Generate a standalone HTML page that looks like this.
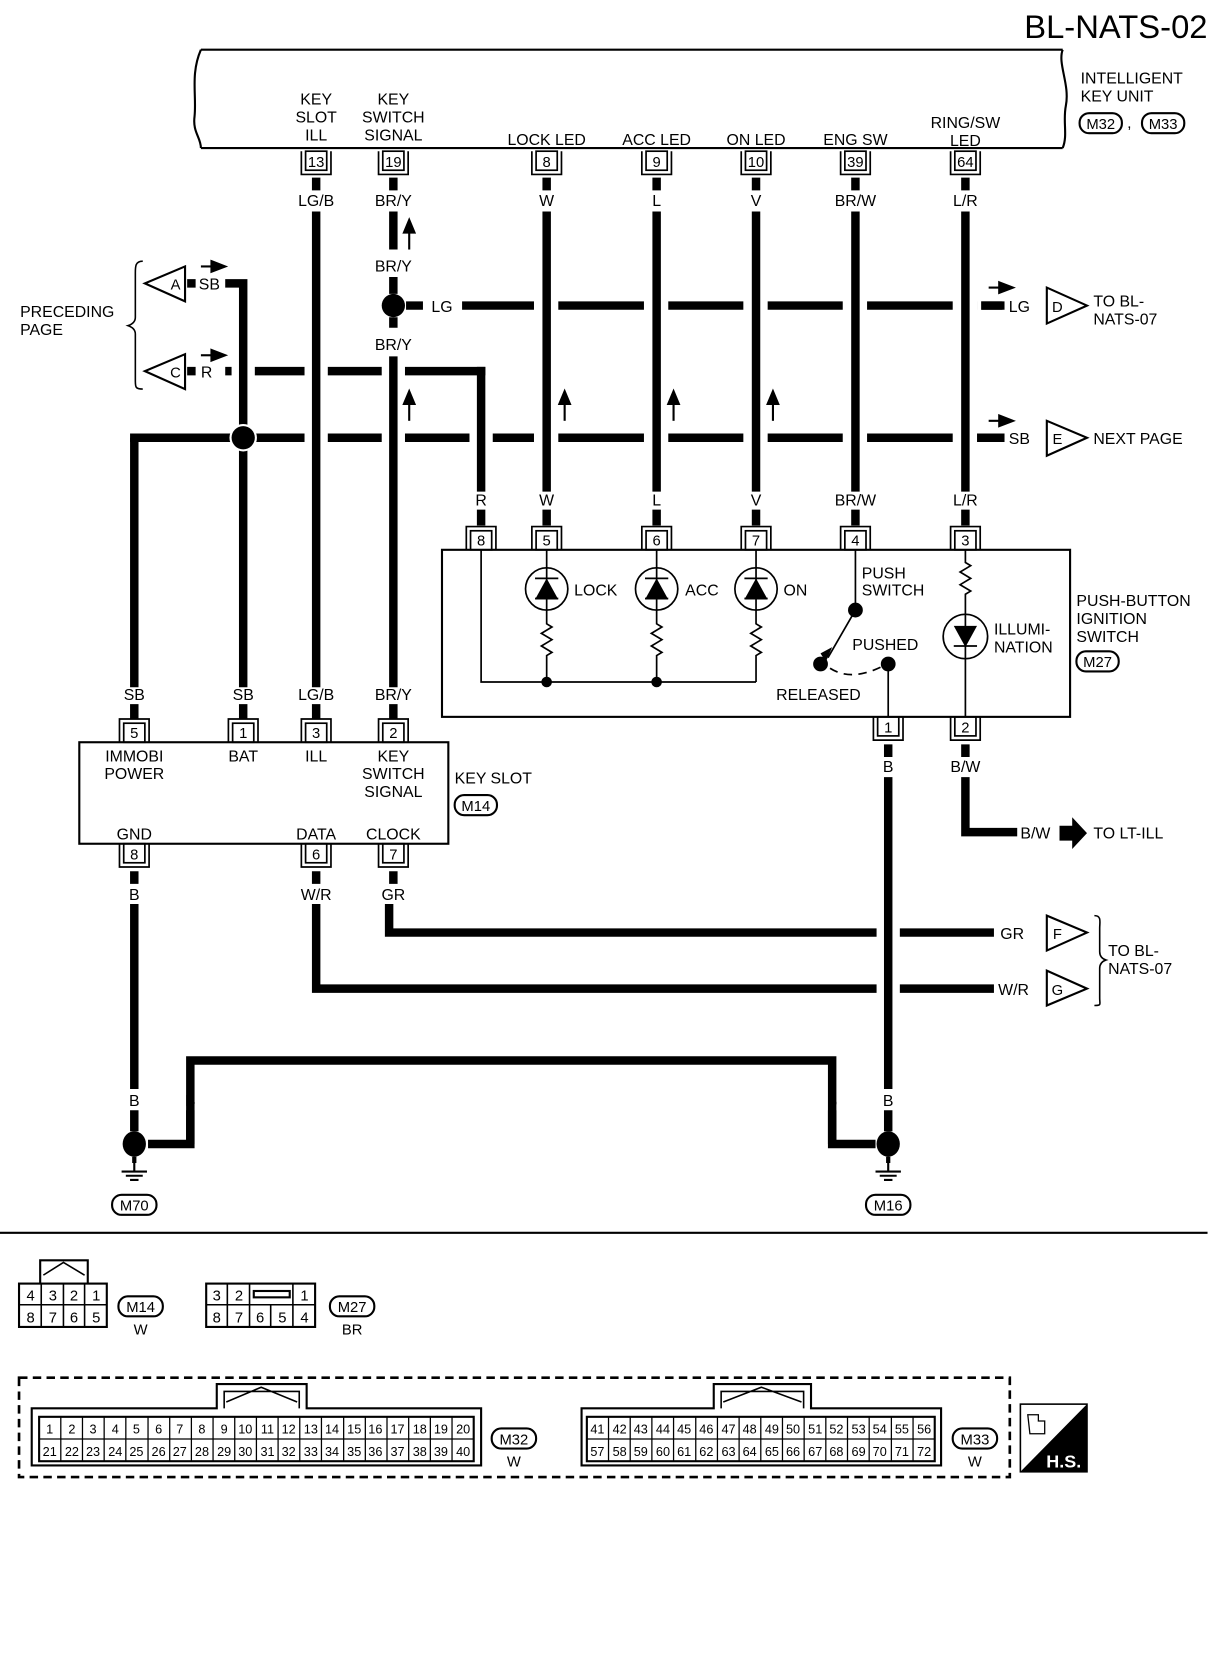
<!DOCTYPE html>
<html><head><meta charset="utf-8"><style>html,body{margin:0;padding:0;background:#fff}svg{display:block}</style></head>
<body>
<svg width="1216" height="1660" viewBox="0 0 1150 1570" preserveAspectRatio="none" xmlns="http://www.w3.org/2000/svg" font-family="Liberation Sans, sans-serif">
<defs>
<g id="pd"><rect x="-10" y="0" width="20" height="18" fill="#fff" stroke="#000" stroke-width="1.6"/><path d="M-14 0V22H14V0" fill="none" stroke="#000" stroke-width="1.6"/></g>
<g id="pu"><rect x="-10" y="-18" width="20" height="18" fill="#fff" stroke="#000" stroke-width="1.6"/><path d="M-14 0V-22H14V0" fill="none" stroke="#000" stroke-width="1.6"/></g>
<g id="gnd"><path d="M0 -14V0M-12 0H12M-8 4H8M-4 8H4" stroke="#000" stroke-width="2" fill="none"/></g>
</defs>
<rect width="1150" height="1570" fill="#fff"/>
<text x="1142" y="36" font-size="31" text-anchor="end">BL-NATS-02</text>

<!-- intelligent key unit -->
<path d="M190 47H1005M190 140H1005" stroke="#000" stroke-width="2"/>
<path d="M190 47C180 70 186 90 184 110C182 125 190 130 190 140" stroke="#000" stroke-width="2" fill="none"/>
<path d="M1005 47C1000 60 1012 80 1008 100C1005 115 1010 128 1005 140" stroke="#000" stroke-width="2" fill="none"/>
<g font-size="15" text-anchor="start">
<text x="1022" y="79">INTELLIGENT</text><text x="1022" y="96">KEY UNIT</text>
<text x="1066" y="121">,</text>
</g>
<g font-size="14" text-anchor="middle">
<rect x="1021" y="107" width="40" height="19" rx="9" fill="none" stroke="#000" stroke-width="2"/><text x="1041" y="122">M32</text>
<rect x="1080" y="107" width="40" height="19" rx="9" fill="none" stroke="#000" stroke-width="2"/><text x="1100" y="122">M33</text>
</g>

<g font-size="15" text-anchor="middle">
<text x="299" y="99">KEY</text><text x="299" y="116">SLOT</text><text x="299" y="133">ILL</text>
<text x="372" y="99">KEY</text><text x="372" y="116">SWITCH</text><text x="372" y="133">SIGNAL</text>
<text x="517" y="137">LOCK LED</text><text x="621" y="137">ACC LED</text><text x="715" y="137">ON LED</text>
<text x="809" y="137">ENG SW</text>
<text x="913" y="121">RING/SW</text><text x="913" y="138">LED</text>
</g>

<!-- horizontal wires -->
<g stroke="#000" stroke-width="8" fill="none">
<path d="M437 289H950"/>
<path d="M213 351H459"/>
<path d="M123 414H950"/>
<path d="M127 414V650"/>
<path d="M368 855V882H940"/>
<path d="M299 855V935H940"/>
<path d="M913 735V787H962"/>
<path d="M140 1082H180V1003H787V1082H828"/>
</g>
<g fill="#fff">
<rect x="505" y="280" width="23" height="18"/><rect x="609" y="280" width="23" height="18"/><rect x="703" y="280" width="23" height="18"/><rect x="797" y="280" width="23" height="18"/><rect x="901" y="280" width="23" height="18"/>
<rect x="219" y="342" width="22" height="18"/><rect x="288" y="342" width="22" height="18"/><rect x="361" y="342" width="22" height="18"/>
<rect x="288" y="405" width="22" height="18"/><rect x="361" y="405" width="22" height="18"/><rect x="444" y="405" width="22" height="18"/><rect x="505" y="405" width="23" height="18"/><rect x="609" y="405" width="23" height="18"/><rect x="703" y="405" width="23" height="18"/><rect x="797" y="405" width="23" height="18"/><rect x="901" y="405" width="23" height="18"/>
<rect x="829" y="873" width="22" height="18"/><rect x="829" y="926" width="22" height="18"/>
<rect x="924" y="280" width="4" height="18"/>
</g>
<g stroke="#000" stroke-width="8">
<path d="M928 289H948M928 414H948"/>
</g>

<!-- vertical wires -->
<g stroke="#000" stroke-width="8" fill="none">
<path d="M213 268H230V650"/>
<path d="M455 347V465"/>
<path d="M299 168V180M299 200V650"/>
<path d="M372 168V180M372 200V236M372 262V278M372 300V310M372 337V650"/>
<path d="M517 168V180M517 200V465M621 168V180M621 200V465M715 168V180M715 200V465M809 168V180M809 200V465M913 168V180M913 200V465"/>
<path d="M455 482V497M517 482V497M621 482V497M715 482V497M809 482V497M913 482V497"/>
<path d="M127 666V680M230 666V680M299 666V680M372 666V680"/>
<path d="M840 704V716M840 735V1030M913 704V716"/>
<path d="M127 824V836M299 824V836M372 824V836"/>
<path d="M127 855V1030M127 1050V1070M840 1050V1070"/>
<path d="M180 1050V1082M787 1050V1082"/>
<path d="M384 289H400"/>
<path d="M177 268H185M177 351H185"/>
</g>
<!-- dots -->
<g fill="#000">
<circle cx="372" cy="289" r="11"/>
<circle cx="230" cy="414" r="13" fill="#fff"/><circle cx="230" cy="414" r="11"/>
<ellipse cx="127" cy="1082" rx="11" ry="12"/><ellipse cx="840" cy="1082" rx="11" ry="12"/>
</g>
<use href="#gnd" x="127" y="1108"/><use href="#gnd" x="840" y="1108"/>
<path d="M127 1094V1100M840 1094V1100" stroke="#000" stroke-width="4"/>

<!-- arrows -->
<g stroke="#000" stroke-width="2" fill="#000">
<path d="M387 236V218"/><path d="M382 220L387 208L392 220Z"/>
<path d="M387 398V380"/><path d="M382 382L387 370L392 382Z"/>
<path d="M534 398V380"/><path d="M529 382L534 370L539 382Z"/>
<path d="M637 398V380"/><path d="M632 382L637 370L642 382Z"/>
<path d="M731 398V380"/><path d="M726 382L731 370L736 382Z"/>
<path d="M190 252H202"/><path d="M200 247L213 252L200 257Z"/>
<path d="M190 336H202"/><path d="M200 331L213 336L200 341Z"/>
<path d="M935 272H947"/><path d="M945 267L958 272L945 277Z"/>
<path d="M935 398H947"/><path d="M945 393L958 398L945 403Z"/>
</g>
<path d="M1002 781H1014V773L1028 788L1014 803V795H1002Z" fill="#000"/>

<!-- triangles -->
<g fill="#fff" stroke="#000" stroke-width="2" font-size="14" text-anchor="middle">
<path d="M175 252V285L137 268Z"/><text x="166" y="274" stroke="none" fill="#000">A</text>
<path d="M175 335V368L137 351Z"/><text x="166" y="357" stroke="none" fill="#000">C</text>
<path d="M990 272V306L1028 289Z"/><text x="1000" y="295" stroke="none" fill="#000">D</text>
<path d="M990 398V431L1028 414Z"/><text x="1000" y="420" stroke="none" fill="#000">E</text>
<path d="M990 866V899L1028 882Z"/><text x="1000" y="888" stroke="none" fill="#000">F</text>
<path d="M990 918V951L1028 935Z"/><text x="1000" y="941" stroke="none" fill="#000">G</text>
</g>
<g fill="none" stroke="#000" stroke-width="1.5">
<path d="M135 247C128 247 128 252 128 258V300C128 305 124 307 121 308C124 309 128 311 128 316V360C128 366 128 368 135 368"/>
<path d="M1035 866C1042 866 1040 872 1040 878V900C1040 905 1043 907 1046 908C1043 909 1040 911 1040 916V944C1040 950 1042 951 1035 951"/>
</g>

<!-- wire labels -->
<g font-size="15" text-anchor="middle">
<text x="299" y="195">LG/B</text><text x="372" y="195">BR/Y</text><text x="517" y="195">W</text><text x="621" y="195">L</text><text x="715" y="195">V</text><text x="809" y="195">BR/W</text><text x="913" y="195">L/R</text>
<text x="372" y="257">BR/Y</text><text x="372" y="331">BR/Y</text>
<text x="455" y="478">R</text><text x="517" y="478">W</text><text x="621" y="478">L</text><text x="715" y="478">V</text><text x="809" y="478">BR/W</text><text x="913" y="478">L/R</text>
<text x="127" y="662">SB</text><text x="230" y="662">SB</text><text x="299" y="662">LG/B</text><text x="372" y="662">BR/Y</text>
<text x="840" y="730">B</text><text x="913" y="730">B/W</text>
<text x="127" y="851">B</text><text x="299" y="851">W/R</text><text x="372" y="851">GR</text>
<text x="127" y="1046">B</text><text x="180" y="1046">B</text><text x="787" y="1046">B</text><text x="840" y="1046">B</text>
</g>
<g font-size="15" text-anchor="start">
<text x="188" y="274">SB</text><text x="190" y="357">R</text>
<text x="408" y="295">LG</text>
<text x="954" y="295">LG</text><text x="954" y="420">SB</text>
<text x="946" y="888">GR</text><text x="944" y="941">W/R</text>
<text x="965" y="793">B/W</text><text x="1034" y="793">TO LT-ILL</text>
<text x="1034" y="290">TO BL-</text><text x="1034" y="307">NATS-07</text>
<text x="1034" y="420">NEXT PAGE</text>
<text x="1048" y="904">TO BL-</text><text x="1048" y="921">NATS-07</text>
<text x="19" y="300">PRECEDING</text><text x="19" y="317">PAGE</text>
</g>

<!-- pins -->
<g font-size="14" text-anchor="middle">
<use href="#pd" x="299" y="143"/><text x="299" y="158">13</text>
<use href="#pd" x="372" y="143"/><text x="372" y="158">19</text>
<use href="#pd" x="517" y="143"/><text x="517" y="158">8</text>
<use href="#pd" x="621" y="143"/><text x="621" y="158">9</text>
<use href="#pd" x="715" y="143"/><text x="715" y="158">10</text>
<use href="#pd" x="809" y="143"/><text x="809" y="158">39</text>
<use href="#pd" x="913" y="143"/><text x="913" y="158">64</text>
<use href="#pu" x="455" y="520"/><text x="455" y="516">8</text>
<use href="#pu" x="517" y="520"/><text x="517" y="516">5</text>
<use href="#pu" x="621" y="520"/><text x="621" y="516">6</text>
<use href="#pu" x="715" y="520"/><text x="715" y="516">7</text>
<use href="#pu" x="809" y="520"/><text x="809" y="516">4</text>
<use href="#pu" x="913" y="520"/><text x="913" y="516">3</text>
<use href="#pd" x="840" y="678"/><text x="840" y="693">1</text>
<use href="#pd" x="913" y="678"/><text x="913" y="693">2</text>
<use href="#pu" x="127" y="702"/><text x="127" y="698">5</text>
<use href="#pu" x="230" y="702"/><text x="230" y="698">1</text>
<use href="#pu" x="299" y="702"/><text x="299" y="698">3</text>
<use href="#pu" x="372" y="702"/><text x="372" y="698">2</text>
<use href="#pd" x="127" y="798"/><text x="127" y="813">8</text>
<use href="#pd" x="299" y="798"/><text x="299" y="813">6</text>
<use href="#pd" x="372" y="798"/><text x="372" y="813">7</text>
</g>

<!-- push button ignition switch -->
<rect x="418" y="520" width="594" height="158" fill="none" stroke="#000" stroke-width="2"/>
<g stroke="#000" stroke-width="1.6" fill="none">
<path d="M455 520V645H715"/>
<path d="M517 520V590l5 3l-10 6l10 6l-10 6l10 6l-5 3V645"/>
<path d="M621 520V590l5 3l-10 6l10 6l-10 6l10 6l-5 3V645"/>
<path d="M715 520V590l5 3l-10 6l10 6l-10 6l10 6l-5 3V645"/>
<circle cx="517" cy="557" r="20"/><circle cx="621" cy="557" r="20"/><circle cx="715" cy="557" r="20"/>
<path d="M809 520V577"/>
<path d="M809 577L783 622"/>
<path d="M785 632Q805 645 835 630" stroke-dasharray="8 6"/>
<path d="M840 628V678"/>
<path d="M913 520V532l5 3l-10 6l10 6l-10 6l10 6l-5 3V678"/>
<circle cx="913" cy="602" r="21"/>
<path d="M506 566H528M610 566H632M704 566H726M902 611H924M506 547H528M610 547H632M704 547H726"/>
</g>
<g fill="#000">
<path d="M506 567L517 547L528 567Z"/><path d="M610 567L621 547L632 567Z"/><path d="M704 567L715 547L726 567Z"/>
<path d="M902 592L924 592L913 612Z"/>
<circle cx="517" cy="645" r="5"/><circle cx="621" cy="645" r="5"/>
<circle cx="809" cy="577" r="7"/><circle cx="776" cy="628" r="7"/><circle cx="840" cy="628" r="7"/>
<path d="M776 618L787 612L781 626Z"/>
</g>
<g font-size="15" text-anchor="start">
<text x="543" y="563">LOCK</text><text x="648" y="563">ACC</text><text x="741" y="563">ON</text>
<text x="815" y="547">PUSH</text><text x="815" y="563">SWITCH</text>
<text x="806" y="615">PUSHED</text><text x="734" y="662">RELEASED</text>
<text x="940" y="600">ILLUMI-</text><text x="940" y="617">NATION</text>
<text x="1018" y="573">PUSH-BUTTON</text><text x="1018" y="590">IGNITION</text><text x="1018" y="607">SWITCH</text>
<text x="430" y="741">KEY SLOT</text>
</g>
<g font-size="14" text-anchor="middle">
<rect x="1018" y="616" width="40" height="19" rx="9" fill="none" stroke="#000" stroke-width="2"/><text x="1038" y="631">M27</text>
<rect x="430" y="752" width="40" height="19" rx="9" fill="none" stroke="#000" stroke-width="2"/><text x="450" y="767">M14</text>
<rect x="106" y="1130" width="42" height="19" rx="9" fill="none" stroke="#000" stroke-width="2"/><text x="127" y="1145">M70</text>
<rect x="819" y="1130" width="42" height="19" rx="9" fill="none" stroke="#000" stroke-width="2"/><text x="840" y="1145">M16</text>
</g>

<!-- key slot -->
<rect x="75" y="702" width="349" height="96" fill="none" stroke="#000" stroke-width="2"/>
<g font-size="15" text-anchor="middle">
<text x="127" y="720">IMMOBI</text><text x="127" y="737">POWER</text>
<text x="230" y="720">BAT</text><text x="299" y="720">ILL</text>
<text x="372" y="720">KEY</text><text x="372" y="737">SWITCH</text><text x="372" y="754">SIGNAL</text>
<text x="127" y="794">GND</text><text x="299" y="794">DATA</text><text x="372" y="794">CLOCK</text>
</g>

<path d="M0 1166H1142" stroke="#000" stroke-width="2"/>

<!-- M14 / M27 connectors -->
<g stroke="#000" stroke-width="2" fill="none">
<path d="M38 1214V1192H83V1214"/><path d="M41 1206L60 1194L80 1206" stroke-width="1.5"/>
<rect x="18" y="1214" width="83" height="41"/>
<path d="M18 1234H101M39 1214V1255M60 1214V1255M80 1214V1255" stroke-width="1.5"/>
<rect x="195" y="1214" width="103" height="41"/>
<path d="M195 1234H298M215 1214V1255M236 1214V1255M256 1234V1255M277 1214V1255" stroke-width="1.5"/>
<rect x="240" y="1221" width="34" height="6"/>
</g>
<g font-size="14" text-anchor="middle">
<text x="29" y="1230">4</text><text x="50" y="1230">3</text><text x="70" y="1230">2</text><text x="91" y="1230">1</text>
<text x="29" y="1251">8</text><text x="50" y="1251">7</text><text x="70" y="1251">6</text><text x="91" y="1251">5</text>
<text x="205" y="1230">3</text><text x="226" y="1230">2</text><text x="288" y="1230">1</text>
<text x="205" y="1251">8</text><text x="226" y="1251">7</text><text x="246" y="1251">6</text><text x="267" y="1251">5</text><text x="288" y="1251">4</text>
<rect x="112" y="1226" width="42" height="19" rx="9" fill="none" stroke="#000" stroke-width="2"/><text x="133" y="1241">M14</text><text x="133" y="1262">W</text>
<rect x="312" y="1226" width="42" height="19" rx="9" fill="none" stroke="#000" stroke-width="2"/><text x="333" y="1241">M27</text><text x="333" y="1262">BR</text>
</g>

<!-- dashed box -->
<rect x="18" y="1303" width="937" height="94" fill="none" stroke="#000" stroke-width="2.5" stroke-dasharray="8 5"/>
<g stroke="#000" stroke-width="2" fill="none">
<path d="M30 1386V1332H205V1309H290V1332H455V1386Z"/>
<path d="M212 1332V1316H283V1332M214 1326L247 1312L281 1326" stroke-width="1.5"/>
<rect x="37" y="1340" width="411" height="42"/>
<path d="M550 1386V1332H675V1309H767V1332H890V1386Z"/>
<path d="M682 1332V1316H760V1332M684 1326L720 1312L758 1326" stroke-width="1.5"/>
<rect x="555" y="1340" width="329" height="42"/>
</g>
<g stroke="#000" stroke-width="1.2">
<path d="M37 1361H448M555 1361H884"/>
<path d="M57.5 1340V1382M78 1340V1382M98.5 1340V1382M119 1340V1382M140 1340V1382M160.5 1340V1382M181 1340V1382M201.5 1340V1382M222 1340V1382M242.5 1340V1382M263 1340V1382M283.5 1340V1382M304 1340V1382M325 1340V1382M345.5 1340V1382M366 1340V1382M386.5 1340V1382M407 1340V1382M427.5 1340V1382"/>
<path d="M575.5 1340V1382M596 1340V1382M616.5 1340V1382M637 1340V1382M658 1340V1382M678.5 1340V1382M699 1340V1382M719.5 1340V1382M740 1340V1382M760.5 1340V1382M781 1340V1382M801.5 1340V1382M822 1340V1382M843 1340V1382M863.5 1340V1382"/>
</g>
<g font-size="12" text-anchor="middle">
<text x="47" y="1356">1</text><text x="68" y="1356">2</text><text x="88" y="1356">3</text><text x="109" y="1356">4</text><text x="129" y="1356">5</text><text x="150" y="1356">6</text><text x="170" y="1356">7</text><text x="191" y="1356">8</text><text x="212" y="1356">9</text><text x="232" y="1356">10</text><text x="253" y="1356">11</text><text x="273" y="1356">12</text><text x="294" y="1356">13</text><text x="314" y="1356">14</text><text x="335" y="1356">15</text><text x="355" y="1356">16</text><text x="376" y="1356">17</text><text x="397" y="1356">18</text><text x="417" y="1356">19</text><text x="438" y="1356">20</text>
<text x="47" y="1377">21</text><text x="68" y="1377">22</text><text x="88" y="1377">23</text><text x="109" y="1377">24</text><text x="129" y="1377">25</text><text x="150" y="1377">26</text><text x="170" y="1377">27</text><text x="191" y="1377">28</text><text x="212" y="1377">29</text><text x="232" y="1377">30</text><text x="253" y="1377">31</text><text x="273" y="1377">32</text><text x="294" y="1377">33</text><text x="314" y="1377">34</text><text x="335" y="1377">35</text><text x="355" y="1377">36</text><text x="376" y="1377">37</text><text x="397" y="1377">38</text><text x="417" y="1377">39</text><text x="438" y="1377">40</text>
<text x="565" y="1356">41</text><text x="586" y="1356">42</text><text x="606" y="1356">43</text><text x="627" y="1356">44</text><text x="647" y="1356">45</text><text x="668" y="1356">46</text><text x="689" y="1356">47</text><text x="709" y="1356">48</text><text x="730" y="1356">49</text><text x="750" y="1356">50</text><text x="771" y="1356">51</text><text x="791" y="1356">52</text><text x="812" y="1356">53</text><text x="832" y="1356">54</text><text x="853" y="1356">55</text><text x="874" y="1356">56</text>
<text x="565" y="1377">57</text><text x="586" y="1377">58</text><text x="606" y="1377">59</text><text x="627" y="1377">60</text><text x="647" y="1377">61</text><text x="668" y="1377">62</text><text x="689" y="1377">63</text><text x="709" y="1377">64</text><text x="730" y="1377">65</text><text x="750" y="1377">66</text><text x="771" y="1377">67</text><text x="791" y="1377">68</text><text x="812" y="1377">69</text><text x="832" y="1377">70</text><text x="853" y="1377">71</text><text x="874" y="1377">72</text>
</g>
<g font-size="14" text-anchor="middle">
<rect x="465" y="1351" width="42" height="19" rx="9" fill="none" stroke="#000" stroke-width="2"/><text x="486" y="1366">M32</text><text x="486" y="1387">W</text>
<rect x="901" y="1351" width="42" height="19" rx="9" fill="none" stroke="#000" stroke-width="2"/><text x="922" y="1366">M33</text><text x="922" y="1387">W</text>
</g>
<!-- H.S. -->
<rect x="965" y="1328" width="63" height="64" fill="#fff" stroke="#000" stroke-width="1.5"/>
<path d="M1028 1328V1392H965Z" fill="#000"/>
<path d="M972 1338h10v6h6v12h-14z" fill="none" stroke="#000" stroke-width="1.2"/>
<text x="1006" y="1388" font-size="17" font-weight="bold" fill="#fff" text-anchor="middle">H.S.</text>
</svg>
</body></html>
